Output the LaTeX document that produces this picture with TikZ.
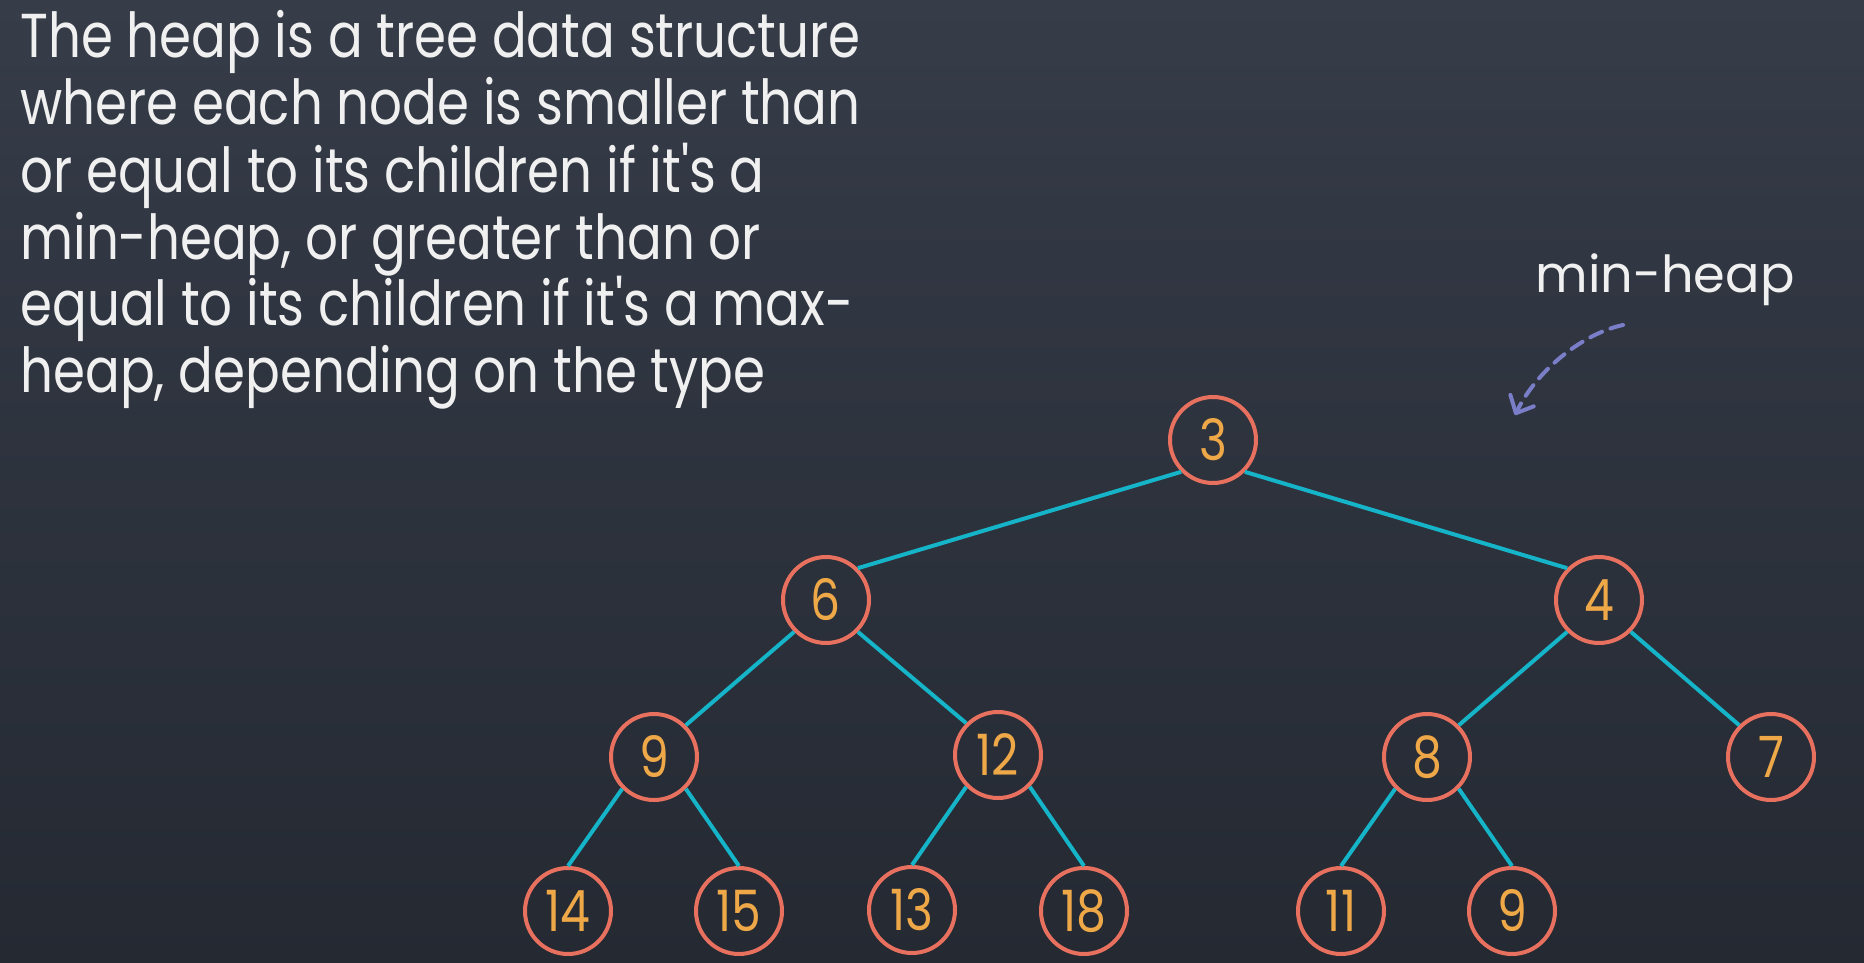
\documentclass[tikz,border=0pt]{standalone}
\usepackage{fontspec}
\setmainfont{Poppins}
\newfontfamily\bodyfont[FakeStretch=0.83]{Poppins}
\usetikzlibrary{arrows.meta}
\definecolor{bgtop}{RGB}{54,60,72}
\definecolor{bgbot}{RGB}{36,41,50}
\definecolor{ring}{RGB}{232,112,95}
\definecolor{num}{RGB}{238,168,72}
\definecolor{edgec}{RGB}{22,180,200}
\definecolor{arr}{RGB}{122,126,200}
\definecolor{txt}{RGB}{240,240,240}
\begin{document}
\begin{tikzpicture}[x=0.5pt,y=-0.5pt,
  hn/.style={circle, draw=ring, line width=2pt, minimum size=43pt, inner sep=0pt, text=num,
    font=\bodyfont\fontsize{28.5}{28.5}\selectfont},
  tl/.style={draw=edgec, line width=2pt},
  bodyline/.style={anchor=base west, inner sep=0pt, text=txt, font=\bodyfont\fontsize{31}{31}\selectfont},
  lbl/.style={anchor=base, inner sep=0pt, text=txt, font=\fontsize{25.5}{25.5}\selectfont},
  pointer/.style={draw=arr, line width=2pt, line cap=round, dash pattern=on 6.5pt off 4.5pt,
    -{Straight Barb[length=7pt,width=13pt,round]}}]
\shade[top color=bgtop,bottom color=bgbot] (0,0) rectangle (1864,963);
\useasboundingbox (0,0) rectangle (1864,963);
% text
\node[bodyline] (l1) at (20,58) {The heap is a tree data structure};
\node[bodyline] (l2) at (20,125) {where each node is smaller than};
\node[bodyline] (l3) at (20,192) {or equal to its children if it's a};
\node[bodyline] (l4) at (20,259) {min-heap, or greater than or};
\node[bodyline] (l5) at (20,325) {equal to its children if it's a max-};
\node[bodyline] (l6) at (20,392) {heap, depending on the type};
\node[lbl] (mh) at (1665,292) {min-heap};
\coordinate (as) at (1623,325);
\coordinate (ae) at (1515,415);
\draw[pointer] (as) .. controls (1585,333) and (1538,368) .. (ae);
% nodes
\node[hn] (n3) at (1213,440) {3};
\node[hn] (n6) at (826,600) {6};
\node[hn] (n4) at (1599,600) {4};
\node[hn] (n9) at (654,757) {9};
\node[hn] (n12) at (998,755) {12};
\node[hn] (n8) at (1427,757) {8};
\node[hn] (n7) at (1771,757) {7};
\node[hn] (n14) at (568,911) {14};
\node[hn] (n15) at (739,911) {15};
\node[hn] (n13) at (912,910) {13};
\node[hn] (n18) at (1084,911) {18};
\node[hn] (n11) at (1341,911) {11};
\node[hn] (n9b) at (1512,911) {9};
% edges
\draw[tl] (n3.south west) -- (n6.north east);
\draw[tl] (n3.south east) -- (n4.north west);
\draw[tl] (n6.south west) -- (n9.north east);
\draw[tl] (n6.south east) -- (n12.north west);
\draw[tl] (n4.south west) -- (n8.north east);
\draw[tl] (n4.south east) -- (n7.north west);
\draw[tl] (n9.south west) -- (n14.north);
\draw[tl] (n9.south east) -- (n15.north);
\draw[tl] (n12.south west) -- (n13.north);
\draw[tl] (n12.south east) -- (n18.north);
\draw[tl] (n8.south west) -- (n11.north);
\draw[tl] (n8.south east) -- (n9b.north);
\end{tikzpicture}
\end{document}
